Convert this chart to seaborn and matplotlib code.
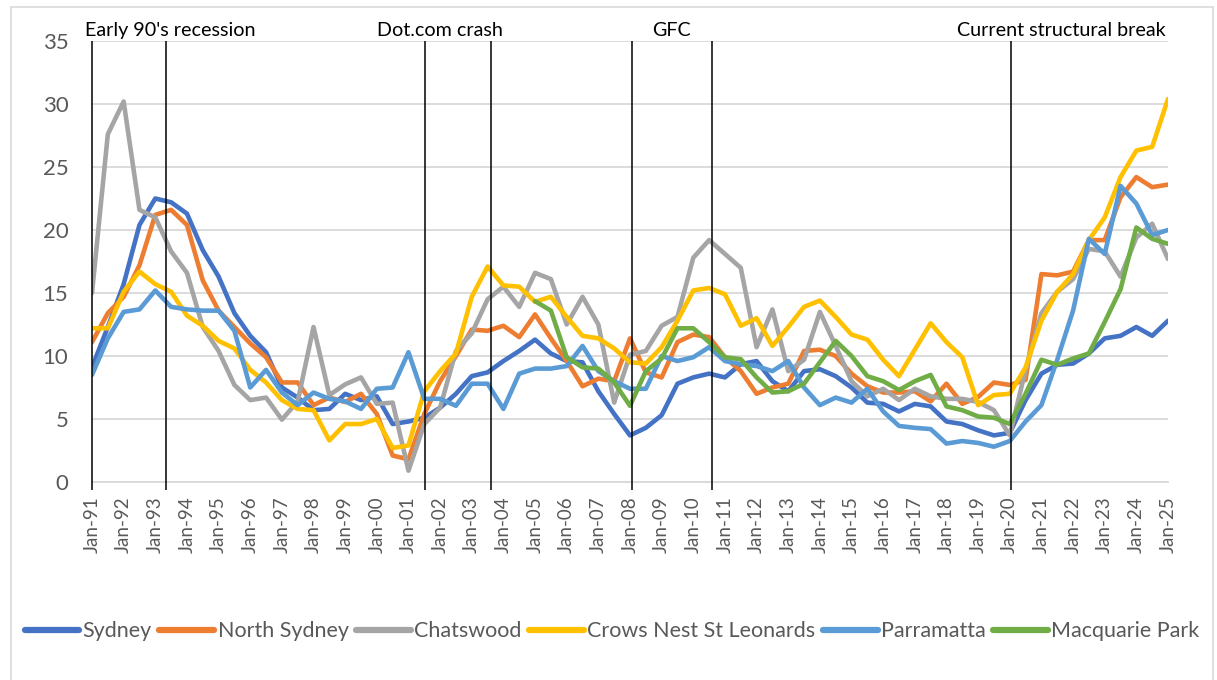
import numpy as np
import pandas as pd
import matplotlib
matplotlib.use("Agg")
from matplotlib import pyplot as plt
from matplotlib.lines import Line2D
from matplotlib.patches import Rectangle
import matplotlib.transforms as mtransforms
import seaborn as sns

# half-yearly observations, Jan-91 .. Jan-25
years = list(range(1991, 2026))
tick_labels = [f"Jan-{y % 100:02d}" for y in years]

names = ["Sydney", "North Sydney", "Chatswood", "Crows Nest St Leonards",
         "Parramatta", "Macquarie Park"]
colors = ["#4472C4", "#ED7D31", "#A5A5A5", "#FFC000", "#5B9BD5", "#70AD47"]

sydney = [9.1, 12.3, 15.7, 20.4, 22.5, 22.2, 21.3, 18.4, 16.3, 13.4,
          11.6, 10.3, 7.5, 6.7, 5.7, 5.8, 7.0, 6.5, 6.8, 4.6,
          4.8, 5.1, 5.9, 7.0, 8.4, 8.7, 9.6, 10.4, 11.3, 10.2,
          9.6, 9.5, 7.2, 5.4, 3.7, 4.3, 5.3, 7.8, 8.3, 8.6,
          8.3, 9.35, 9.6, 8.0, 7.2, 8.8, 8.95, 8.4, 7.5, 6.3,
          6.2, 5.6, 6.2, 6.0, 4.8, 4.6, 4.1, 3.7, 3.9, 6.5,
          8.6, 9.3, 9.4, 10.2, 11.4, 11.6, 12.3, 11.6, 12.8]
north_sydney = [11.1, 13.4, 14.7, 17.2, 21.2, 21.6, 20.4, 16.0, 13.6, 12.3,
                11.0, 9.9, 7.9, 7.9, 6.1, 6.7, 6.35, 7.0, 5.4, 2.1,
                1.8, 5.4, 8.0, 10.0, 12.1, 12.0, 12.4, 11.5, 13.3, 11.4,
                9.6, 7.6, 8.2, 8.0, 11.4, 8.7, 8.3, 11.1, 11.7, 11.5,
                9.9, 8.8, 7.0, 7.5, 7.8, 10.4, 10.5, 10.0, 8.6, 7.6,
                7.1, 7.1, 7.2, 6.4, 7.8, 6.2, 6.75, 7.9, 7.7, 8.1,
                16.5, 16.4, 16.7, 19.2, 19.2, 22.6, 24.2, 23.4, 23.6]
chatswood = [15.0, 27.6, 30.2, 21.6, 21.0, 18.3, 16.6, 12.3, 10.4, 7.7,
             6.5, 6.7, 4.95, 6.4, 12.3, 6.9, 7.75, 8.3, 6.2, 6.3,
             0.9, 4.6, 5.9, 10.4, 11.8, 14.5, 15.5, 13.9, 16.6, 16.1,
             12.5, 14.7, 12.5, 6.3, 10.1, 10.4, 12.4, 13.1, 17.8, 19.2,
             18.1, 17.0, 10.7, 13.7, 8.8, 9.7, 13.5, 10.8, 8.0, 6.8,
             7.4, 6.5, 7.4, 6.8, 6.6, 6.6, 6.35, 5.7, 3.7, 8.9,
             13.4, 15.1, 16.1, 18.5, 18.3, 16.3, 19.4, 20.5, 17.7]
crows_nest = [12.2, 12.2, 15.1, 16.7, 15.7, 15.1, 13.2, 12.4, 11.2, 10.6,
              8.9, 7.9, 6.5, 5.8, 5.7, 3.3, 4.6, 4.6, 5.0, 2.7,
              2.9, 7.2, 8.8, 10.2, 14.7, 17.1, 15.6, 15.5, 14.3, 14.7,
              13.1, 11.6, 11.4, 10.6, 9.5, 9.4, 10.7, 12.8, 15.2, 15.4,
              14.9, 12.4, 13.0, 10.8, 12.3, 13.9, 14.4, 13.1, 11.7, 11.3,
              9.7, 8.4, 10.5, 12.6, 11.1, 9.9, 6.1, 6.9, 7.0, 9.1,
              12.8, 15.1, 16.5, 19.2, 21.0, 24.2, 26.3, 26.6, 30.4]
parramatta = [8.5, 11.4, 13.5, 13.7, 15.2, 13.9, 13.7, 13.6, 13.6, 12.0,
              7.5, 8.9, 7.1, 6.1, 7.1, 6.6, 6.4, 5.8, 7.4, 7.5,
              10.3, 6.6, 6.6, 6.05, 7.8, 7.8, 5.8, 8.6, 9.0, 9.0,
              9.2, 10.8, 8.8, 8.0, 7.4, 7.4, 10.0, 9.6, 9.9, 10.7,
              9.6, 9.35, 9.2, 8.8, 9.6, 7.5, 6.1, 6.7, 6.3, 7.4,
              5.6, 4.45, 4.3, 4.2, 3.05, 3.25, 3.1, 2.8, 3.25, 4.8,
              6.1, 9.7, 13.6, 19.3, 18.1, 23.5, 22.1, 19.6, 20.0]
# Macquarie Park series only starts Jan-05
macquarie_park = [np.nan] * 28 + [
    14.35, 13.6, 9.9, 9.1, 9.0, 7.9, 6.05, 8.8, 9.8, 12.2,
    12.2, 11.1, 9.9, 9.75, 8.3, 7.1, 7.2, 7.8, 9.5, 11.2,
    10.0, 8.4, 8.0, 7.3, 8.0, 8.5, 6.0, 5.7, 5.2, 5.1,
    4.6, 7.0, 9.7, 9.3, 9.8, 10.2, 12.7, 15.3, 20.2, 19.3,
    18.9]

# event markers (position in half-year periods from Jan-91) and labels
break_pos = [0, 4.68, 21.07, 25.2, 34.13, 39.17, 58.07]
event_labels = ["Early 90's recession", "Dot.com crash", "GFC",
                "Current structural break"]
event_x = [-0.45, 18.0, 35.4, 67.85]
event_ha = ["left", "left", "left", "right"]

series = [sydney, north_sydney, chatswood, crows_nest, parramatta, macquarie_park]
period = np.arange(len(sydney))
df = pd.concat([pd.DataFrame({"period": period, "rate": vals, "series": nm})
                for nm, vals in zip(names, series)], ignore_index=True)
df = df.dropna()

sns.set_theme(style="white")
plt.rcParams["font.family"] = ["Lato", "DejaVu Sans"]

fig = plt.figure(figsize=(12.17, 6.8), dpi=100)
ax = fig.add_axes([92 / 1217, 1 - 482 / 680, (1168 - 92) / 1217, 441 / 680])

sns.lineplot(data=df, x="period", y="rate", hue="series", hue_order=names,
             palette=colors, lw=3.3, estimator=None, legend=False, ax=ax,
             zorder=3)

ax.set_xlim(0, 68)
ax.set_ylim(0, 35)
ax.set_yticks(range(0, 36, 5))
ax.set_xticks(range(0, 69, 2))
ax.set_xticklabels(tick_labels, rotation=90)
ax.set_xlabel("")
ax.set_ylabel("")
ax.yaxis.grid(True, color="#D9D9D9", lw=1.3)
ax.xaxis.grid(False)
for s in ["left", "right", "top"]:
    ax.spines[s].set_visible(False)
ax.spines["bottom"].set_color("#D9D9D9")
ax.spines["bottom"].set_linewidth(1.3)
ax.tick_params(axis="x", direction="out", length=8, width=1.3, color="#D9D9D9",
               labelcolor="#595959", labelsize=13.5, pad=2)
ax.tick_params(axis="y", length=0, labelcolor="#595959", labelsize=16, pad=17)

ax.vlines(break_pos, -0.65, 35, colors="black", lw=1.1, zorder=5, clip_on=False)

trans = mtransforms.blended_transform_factory(ax.transData, ax.transAxes)
for lab, xx, ha in zip(event_labels, event_x, event_ha):
    ax.text(xx, 1.012, lab, transform=trans, ha=ha, va="baseline",
            fontsize=14.2, color="black")

handles = [Line2D([0], [0], color=c, lw=4.5, solid_capstyle="round") for c in colors]
fig.legend(handles, names, loc="center", bbox_to_anchor=(0.503, 0.072), ncol=6,
           frameon=False, fontsize=15.5, handlelength=2.55, handletextpad=0.15,
           columnspacing=0.35, labelcolor="#595959")

fig.patches.append(Rectangle((11 / 1217, -0.1), (1213 - 11) / 1217, 1.1 - 7 / 680,
                             transform=fig.transFigure, fill=False,
                             ec="#D9D9D9", lw=1.2))

fig.savefig("out.png", dpi=100)
